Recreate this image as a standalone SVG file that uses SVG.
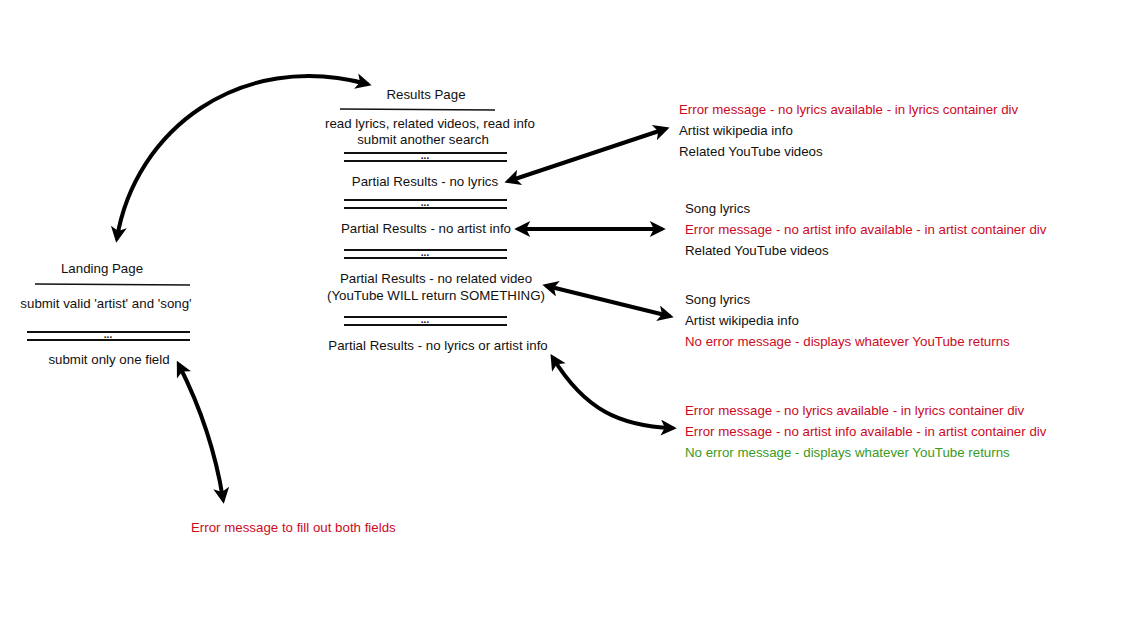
<svg xmlns="http://www.w3.org/2000/svg" width="1136" height="632" viewBox="0 0 1136 632">
<defs>
<style>
text{font-family:"Liberation Sans","DejaVu Sans",sans-serif;font-size:13.3px;fill:#111}
.c{text-anchor:middle}
.r{fill:#cc0a1e}
.g{fill:#3a9a1c}
.sep{stroke:#111;stroke-width:2}
.ul{stroke:#111;stroke-width:1.6}
.dots{font-size:10px;font-weight:bold;text-anchor:middle}
.conn{fill:none;stroke:#000;stroke-width:4;stroke-linecap:round}
</style>
<marker id="ah" viewBox="0 0 10 10" refX="7" refY="5" markerWidth="18" markerHeight="16" markerUnits="userSpaceOnUse" orient="auto-start-reverse">
<path d="M0,0 L10,5 L0,10 L2.5,5 Z" fill="#000"/>
</marker>
</defs>
<rect width="1136" height="632" fill="#fff"/>

<g id="landing">
<text class="c" x="102" y="273">Landing Page</text>
<line class="ul" x1="35" y1="284" x2="190" y2="285"/>
<text class="c" x="106" y="308">submit valid 'artist' and 'song'</text>
<line class="sep" x1="27" y1="332" x2="190" y2="332"/>
<text class="dots" x="108" y="338">...</text>
<line class="sep" x1="27" y1="340" x2="190" y2="340"/>
<text class="c" x="109" y="364">submit only one field</text>
</g>

<g id="results">
<text class="c" x="426" y="99">Results Page</text>
<line class="ul" x1="340" y1="109" x2="495" y2="110"/>
<text class="c" x="430" y="128">read lyrics, related videos, read info</text>
<text class="c" x="423" y="144">submit another search</text>
<line class="sep" x1="344" y1="153" x2="507" y2="153"/>
<text class="dots" x="425" y="159">...</text>
<line class="sep" x1="344" y1="161" x2="507" y2="161"/>
<text class="c" x="425" y="186">Partial Results - no lyrics</text>
<line class="sep" x1="344" y1="200" x2="507" y2="200"/>
<text class="dots" x="425" y="206">...</text>
<line class="sep" x1="344" y1="208" x2="507" y2="208"/>
<text class="c" x="426" y="233">Partial Results - no artist info</text>
<line class="sep" x1="344" y1="250" x2="507" y2="250"/>
<text class="dots" x="425" y="256">...</text>
<line class="sep" x1="344" y1="258" x2="507" y2="258"/>
<text class="c" x="436" y="283">Partial Results - no related video</text>
<text class="c" x="436" y="300">(YouTube WILL return SOMETHING)</text>
<line class="sep" x1="344" y1="317" x2="507" y2="317"/>
<text class="dots" x="425" y="323">...</text>
<line class="sep" x1="344" y1="325" x2="507" y2="325"/>
<text class="c" x="438" y="350">Partial Results - no lyrics or artist info</text>
</g>

<g id="no-lyrics-out">
<text class="r" x="679" y="114">Error message - no lyrics available - in lyrics container div</text>
<text x="679" y="135">Artist wikipedia info</text>
<text x="679" y="156">Related YouTube videos</text>
</g>

<g id="no-artist-out">
<text x="685" y="213">Song lyrics</text>
<text class="r" x="685" y="234">Error message - no artist info available - in artist container div</text>
<text x="685" y="255">Related YouTube videos</text>
</g>

<g id="no-video-out">
<text x="685" y="304">Song lyrics</text>
<text x="685" y="325">Artist wikipedia info</text>
<text class="r" x="685" y="346">No error message - displays whatever YouTube returns</text>
</g>

<g id="no-both-out">
<text class="r" x="685" y="415">Error message - no lyrics available - in lyrics container div</text>
<text class="r" x="685" y="436">Error message - no artist info available - in artist container div</text>
<text class="g" x="685" y="457">No error message - displays whatever YouTube returns</text>
</g>

<g id="fill-both-error">
<text class="r" x="191" y="532">Error message to fill out both fields</text>
</g>

<g id="connectors">
<path class="conn" d="M117,238 C135,130 240,50 367,84" marker-start="url(#ah)" marker-end="url(#ah)"/>
<path class="conn" d="M509,181 L665,129" marker-start="url(#ah)" marker-end="url(#ah)"/>
<path class="conn" d="M519,229 L661,229" marker-start="url(#ah)" marker-end="url(#ah)"/>
<path class="conn" d="M547,286 L669,316" marker-start="url(#ah)" marker-end="url(#ah)"/>
<path class="conn" d="M553,358 C585,410 620,426 672,428" marker-start="url(#ah)" marker-end="url(#ah)"/>
<path class="conn" d="M179,365 Q212,430 223,499" marker-start="url(#ah)" marker-end="url(#ah)"/>
</g>
</svg>
